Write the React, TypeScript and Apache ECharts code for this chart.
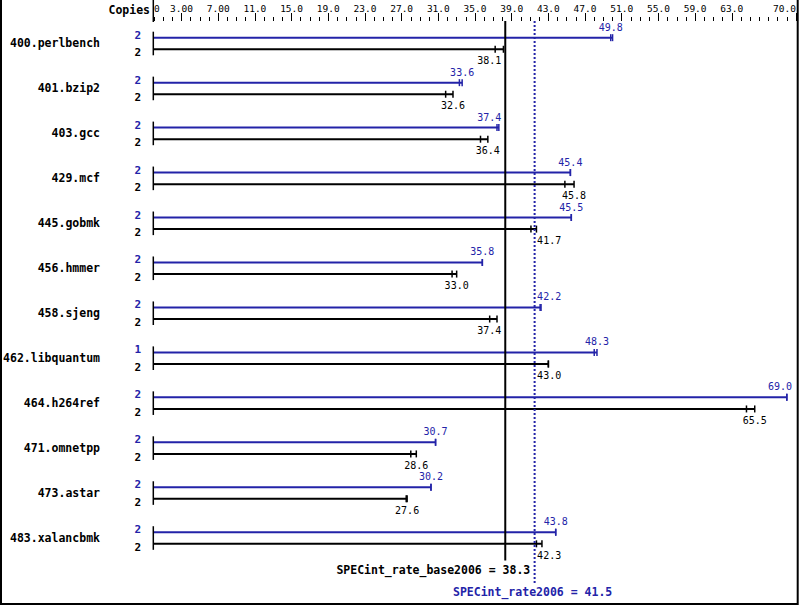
import React, { useEffect, useRef } from "react";
import * as echarts from "echarts";

const benchmarks = [
  "400.perlbench", "401.bzip2", "403.gcc", "429.mcf", "445.gobmk", "456.hmmer",
  "458.sjeng", "462.libquantum", "464.h264ref", "471.omnetpp", "473.astar", "483.xalancbmk",
];
const peakValues = [49.8, 33.6, 37.4, 45.4, 45.5, 35.8, 42.2, 48.3, 69.0, 30.7, 30.2, 43.8];
const peakOtherRuns = [50.0, 33.3, 37.6, 45.4, 45.5, 35.8, 42.1, 48.0, 69.0, 30.7, 30.2, 43.8];
const peakCopies = [2, 2, 2, 2, 2, 2, 2, 1, 2, 2, 2, 2];
const baseValues = [38.1, 32.6, 36.4, 45.8, 41.7, 33.0, 37.4, 43.0, 65.5, 28.6, 27.6, 42.3];
const baseOtherRuns = [37.2, 31.8, 35.6, 44.8, 41.1, 32.5, 36.6, 43.0, 64.6, 28.0, 27.5, 41.7];
const baseCopies = [2, 2, 2, 2, 2, 2, 2, 2, 2, 2, 2, 2];
const baseRate = 38.3;
const peakRate = 41.5;
const baseRateLabel = "SPECint_rate_base2006 = 38.3";
const peakRateLabel = "SPECint_rate2006 = 41.5";
const tickValues = [0, 3, 7, 11, 15, 19, 23, 27, 31, 35, 39, 43, 47, 51, 55, 59, 63, 70];
const tickLabels = ["0", "3.00", "7.00", "11.0", "15.0", "19.0", "23.0", "27.0", "31.0", "35.0", "39.0", "43.0", "47.0", "51.0", "55.0", "59.0", "63.0", "70.0"];
const majorTicks = [3, 7, 11, 15, 19, 23, 27, 31, 35, 39, 43, 47, 51, 55, 59, 63, 70];

const BLUE = "#2323a8";
const MONO = "DejaVu Sans Mono";
const GRID_LEFT = 154;
const GRID_TOP = 21;

export default function App() {
  const ref = useRef<HTMLDivElement>(null);
  useEffect(() => {
    if (!ref.current) return;
    const chart = echarts.init(ref.current, null, { renderer: "svg" });

    const barData: any[] = [];
    benchmarks.forEach((_, b) => {
      barData.push([peakValues[b], b, 0]);
      barData.push([baseValues[b], b, 1]);
    });

    const labelW = (s: string) => s.length * 6.02;

    const renderBar = (params: any, api: any) => {
      const v = api.value(0);
      const b = api.value(1);
      const kind = api.value(2);
      const c = api.coord([0, b]);
      const x0 = c[0];
      const y = c[1] + (kind === 0 ? -5.8 : 5.8);
      const xe = api.coord([v, b])[0];
      const other = kind === 0 ? peakOtherRuns[b] : baseOtherRuns[b];
      const xo = api.coord([other, b])[0];
      const xEnd = Math.max(xe, xo);
      const color = kind === 0 ? BLUE : "#000";
      const txt = v.toFixed(1);
      const w = labelW(txt);
      const bx = api.coord([baseRate, b])[0];
      const px = api.coord([peakRate, b])[0];
      const rightEdge = params.coordSys.x + params.coordSys.width;
      let lx = xe;
      let align = "center";
      for (const rx of [bx, px]) {
        if (lx - w / 2 < rx + 2 && lx + w / 2 > rx - 2) {
          if (xe < rx) {
            lx = rx - 4;
            align = "right";
          } else {
            lx = rx + 2.5;
            align = "left";
          }
        }
      }
      if (align === "center" && lx + w / 2 > rightEdge - 4) {
        lx = rightEdge - 4;
        align = "right";
      }
      const copies = kind === 0 ? peakCopies[b] : baseCopies[b];
      const children: any[] = [
        { type: "line", shape: { x1: x0 - 1, y1: y, x2: xEnd, y2: y }, style: { stroke: color, lineWidth: 2 } },
        { type: "line", shape: { x1: xe, y1: y - 3.5, x2: xe, y2: y + 3.5 }, style: { stroke: color, lineWidth: 1.5 } },
        { type: "line", shape: { x1: xo, y1: y - 3.5, x2: xo, y2: y + 3.5 }, style: { stroke: color, lineWidth: 1.5 } },
        {
          type: "text",
          style: {
            x: lx, y: kind === 0 ? y - 10.5 : y + 11.5, text: txt, fill: color,
            font: `10px "${MONO}"`, align, verticalAlign: "middle",
          },
        },
        {
          type: "text",
          style: {
            x: x0 - 13, y: kind === 0 ? y - 2.5 : y + 3.5, text: String(copies), fill: color,
            font: `bold 11px "${MONO}"`, align: "right", verticalAlign: "middle",
          },
        },
      ];
      if (kind === 0) {
        children.push({
          type: "line",
          shape: { x1: x0 - 0.7, y1: y - 6, x2: x0 - 0.7, y2: y + 11.6 + 6 },
          style: { stroke: "#000", lineWidth: 1.5 },
        });
      }
      return { type: "group", children };
    };

    const renderRef = (params: any, api: any) => {
      const v = api.value(0);
      const kind = api.value(1);
      const x = api.coord([v, 0])[0];
      const top = params.coordSys.y;
      const bottom = params.coordSys.y + params.coordSys.height;
      if (kind === 0) {
        return {
          type: "group",
          children: [
            { type: "line", shape: { x1: x, y1: top, x2: x, y2: bottom }, style: { stroke: "#000", lineWidth: 2 } },
            {
              type: "text",
              style: {
                x: x + 25, y: bottom + 9.5, text: baseRateLabel, fill: "#000",
                font: `bold 11.5px "${MONO}"`, align: "right", verticalAlign: "middle",
              },
            },
          ],
        };
      }
      return {
        type: "group",
        children: [
          {
            type: "line", shape: { x1: x, y1: top, x2: x, y2: bottom + 23 },
            style: { stroke: BLUE, lineWidth: 2, lineDash: [2, 2] },
          },
          {
            type: "text",
            style: {
              x: x - 2, y: bottom + 31.5, text: peakRateLabel, fill: BLUE,
              font: `bold 11.5px "${MONO}"`, align: "center", verticalAlign: "middle",
            },
          },
        ],
      };
    };

    chart.setOption({
      animation: false,
      backgroundColor: "#fff",
      grid: { left: GRID_LEFT, right: 3, top: GRID_TOP, bottom: 45.5, containLabel: false },
      xAxis: [
        {
          type: "value", position: "top", min: 0, max: 70,
          axisLine: { show: false },
          splitLine: { show: false },
          axisTick: { show: true, customValues: majorTicks, length: 8, lineStyle: { color: "#000", width: 1 } },
          axisLabel: {
            show: true, customValues: tickValues, margin: 8,
            fontFamily: MONO, fontSize: 9.5, color: "#000",
            alignMinLabel: "left", alignMaxLabel: "right",
            formatter: (val: number) => {
              const i = tickValues.indexOf(val);
              return i >= 0 ? tickLabels[i] : "";
            },
          },
        },
        {
          type: "value", position: "top", min: 0, max: 70, interval: 1,
          axisLine: { show: false },
          splitLine: { show: false },
          axisTick: { show: true, length: 4, lineStyle: { color: "#000", width: 1 } },
          axisLabel: { show: false },
        },
      ],
      yAxis: {
        type: "category", data: benchmarks, inverse: true,
        axisLine: { show: false }, axisTick: { show: false }, splitLine: { show: false },
        axisLabel: {
          margin: 54, fontFamily: MONO, fontWeight: "bold", fontSize: 11.5, color: "#000",
        },
      },
      graphic: [
        {
          type: "text", x: 150, y: 10,
          style: { text: "Copies", fill: "#000", font: `bold 11.5px "${MONO}"`, align: "right", verticalAlign: "middle" },
        },
        { type: "line", shape: { x1: 153.3, y1: 0, x2: 153.3, y2: 22 }, style: { stroke: "#000", lineWidth: 1.5 } },
        {
          type: "polyline",
          shape: { points: [[1, 0], [1, 604], [797.7, 604], [797.7, 0]] },
          style: { stroke: "#000", lineWidth: 2, fill: "none" },
        },
      ],
      series: [
        {
          type: "custom", coordinateSystem: "cartesian2d", xAxisIndex: 0, yAxisIndex: 0,
          renderItem: renderBar, data: barData, clip: false, z: 2,
          encode: { x: 0, y: 1 },
        },
        {
          type: "custom", coordinateSystem: "cartesian2d", xAxisIndex: 0, yAxisIndex: 0,
          renderItem: renderRef, data: [[baseRate, 0], [peakRate, 1]], clip: false, z: 3,
          encode: { x: 0 },
        },
      ],
    });
    return () => chart.dispose();
  }, []);
  return <div ref={ref} style={{ position: "fixed", left: 0, top: 0, width: 799, height: 606 }} />;
}
